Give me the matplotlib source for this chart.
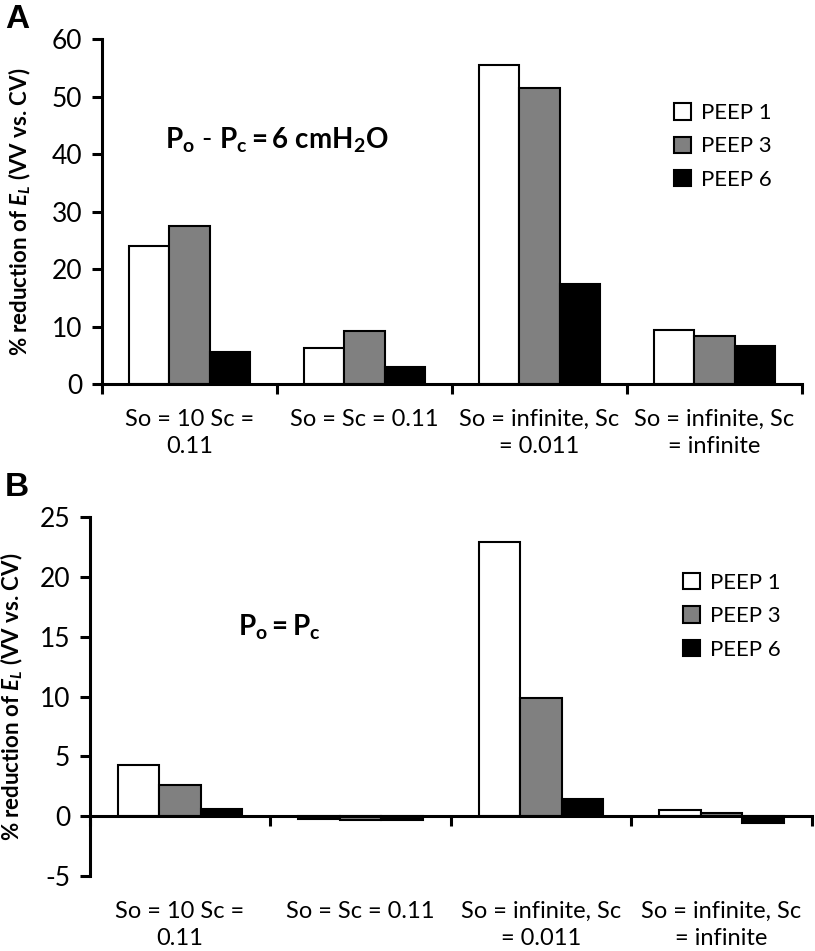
import numpy as np
import matplotlib
matplotlib.use("Agg")
import matplotlib.pyplot as plt

plt.rcParams['font.family'] = ['Lato', 'DejaVu Sans']
plt.rcParams['mathtext.fontset'] = 'custom'
plt.rcParams['mathtext.rm'] = 'Lato'
plt.rcParams['mathtext.it'] = 'Lato:italic'
plt.rcParams['mathtext.bf'] = 'Lato:bold'
plt.rcParams['mathtext.bfit'] = 'Lato:bold:italic'
plt.rcParams['axes.unicode_minus'] = False

# data
groups = ["So = 10 Sc =\n0.11", "So = Sc = 0.11",
          "So = infinite, Sc\n= 0.011", "So = infinite, Sc\n= infinite"]
series = ["PEEP 1", "PEEP 3", "PEEP 6"]
colors = ["white", "#808080", "black"]

a_peep1 = [24.0, 6.3, 55.4, 9.4]
a_peep3 = [27.5, 9.2, 51.5, 8.3]
a_peep6 = [5.6, 3.0, 17.4, 6.7]

b_peep1 = [4.3, -0.2, 22.9, 0.5]
b_peep3 = [2.6, -0.3, 9.9, 0.25]
b_peep6 = [0.6, -0.35, 1.4, -0.6]

ylabel = "% reduction of $\\mathbfit{E_L}$ (VV vs. CV)"

fig = plt.figure(figsize=(8.15, 9.51), dpi=100)
axA = fig.add_axes([0.125, 0.596, 0.859, 0.363])
axB = fig.add_axes([0.110, 0.079, 0.886, 0.377])

def draw(ax, vals, ylim, yticks, pad, ylab_x, note, note_xy, leg_xy):
    x = np.arange(len(groups))
    w = 0.23
    for i, (v, c, s) in enumerate(zip(vals, colors, series)):
        ax.bar(x + (i - 1) * w, v, w, color=c, edgecolor="black",
               linewidth=1.5, label=s, zorder=2)
    ax.set_xlim(-0.5, len(groups) - 0.5)
    ax.set_ylim(*ylim)
    ax.set_yticks(yticks)
    for sp in ["top", "right"]:
        ax.spines[sp].set_visible(False)
    ax.spines["left"].set_linewidth(2.2)
    ax.spines["bottom"].set_linewidth(2.2)
    ax.spines["bottom"].set_position(("data", 0))
    ax.spines["bottom"].set_zorder(3)
    ax.set_xticks(x)
    ax.set_xticklabels(groups, fontsize=17, linespacing=1.35)
    ax.set_xticks(np.arange(len(groups) + 1) - 0.5, minor=True)
    ax.tick_params(axis="x", which="major", length=0, pad=pad)
    ax.tick_params(axis="x", which="minor", length=7, width=2.2, direction="out")
    ax.tick_params(axis="y", length=7, width=2.2, direction="out", labelsize=19, pad=7)
    ax.set_ylabel(ylabel, fontsize=16, fontweight="bold")
    ax.yaxis.set_label_coords(ylab_x, 0.5)
    ax.text(note_xy[0], note_xy[1], note, transform=ax.transAxes,
            fontsize=20, ha="center", va="center")
    ax.legend(loc="upper left", bbox_to_anchor=leg_xy, frameon=False,
              fontsize=16, handlelength=0.75, handleheight=0.75,
              handletextpad=0.45, labelspacing=0.6, borderaxespad=0)

draw(axA, [a_peep1, a_peep3, a_peep6], (0, 60), np.arange(0, 61, 10), 18,
     -0.098, r"$\mathbf{P_o\ \text{-}\ P_c = 6\ cmH_2O}$", (0.25, 0.707),
     (0.805, 0.84))
draw(axB, [b_peep1, b_peep3, b_peep6], (-5, 25), np.arange(-5, 26, 5), 61,
     -0.09, r"$\mathbf{P_o = P_c}$", (0.263, 0.694), (0.81, 0.87))

fig.text(0.006, 0.996, "A", fontsize=24, fontweight="bold",
         family="Liberation Sans", ha="left", va="top")
fig.text(0.006, 0.504, "B", fontsize=24, fontweight="bold",
         family="Liberation Sans", ha="left", va="top")

fig.savefig("out.png", dpi=100)
